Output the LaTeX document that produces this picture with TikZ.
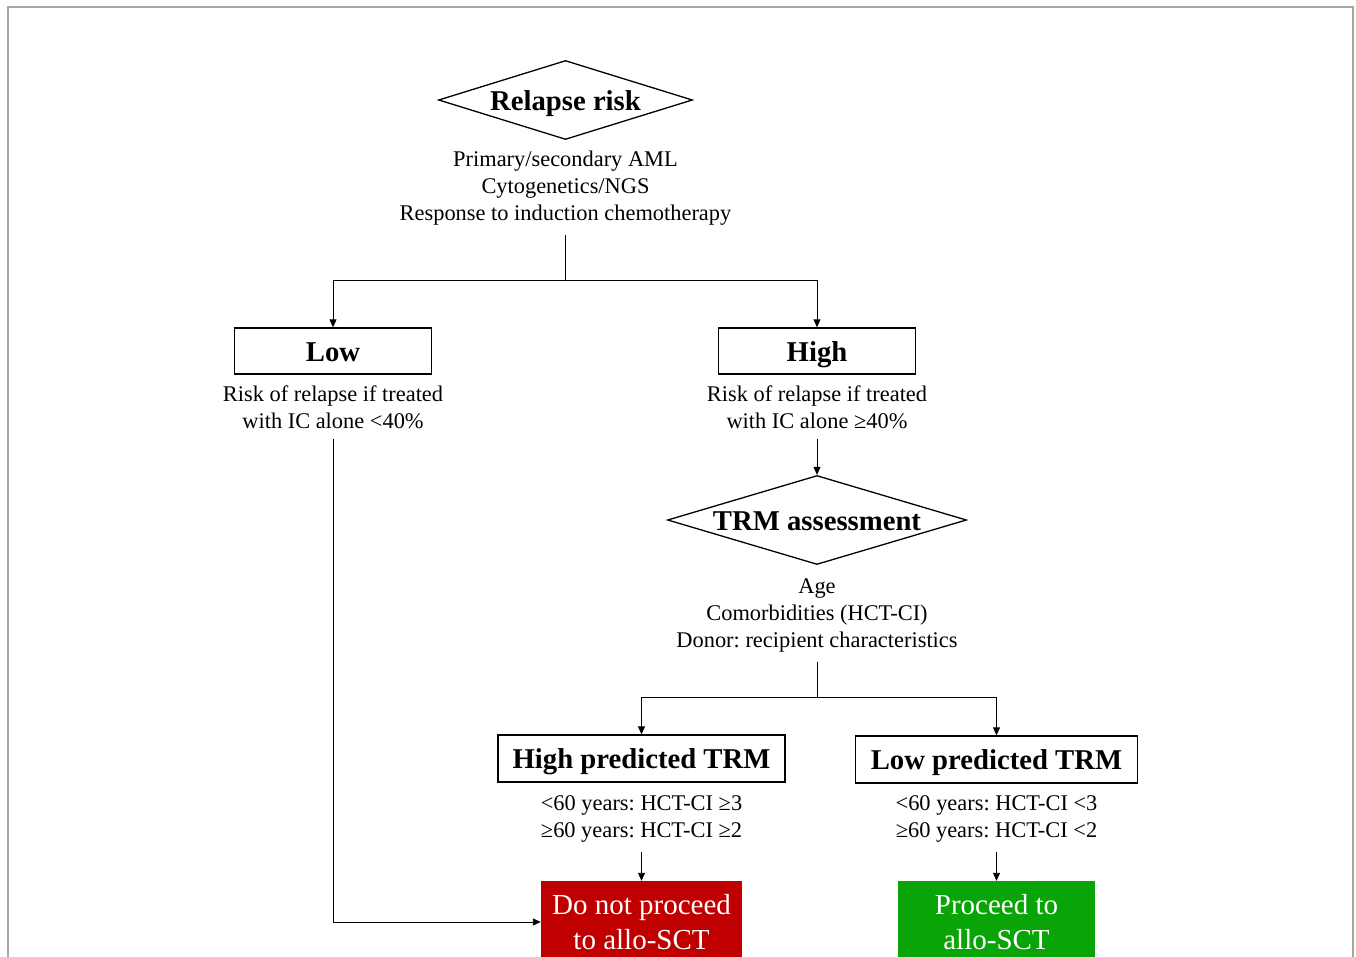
\documentclass[tikz,border=0pt]{standalone}
\usepackage{fontspec}
\setmainfont{Liberation Serif}
\usetikzlibrary{shapes.geometric,arrows.meta}
\definecolor{noRed}{HTML}{C00000}
\definecolor{goGreen}{HTML}{08A408}
\definecolor{frameGray}{HTML}{A6A6A6}
\tikzset{
  decision/.style={shape=diamond, draw, line width=1.3pt, inner sep=0pt, aspect=3.3,
    text height=21pt, text depth=0pt,
    font=\fontsize{28.7}{32}\selectfont\bfseries},
  hbox/.style={draw, line width=1.3pt, inner sep=0pt,
    text height=23pt, text depth=2.5pt,
    font=\fontsize{28.7}{32}\selectfont\bfseries},
  info/.style={align=center, inner xsep=4pt, inner ysep=10pt,
    font=\fontsize{22.4}{27}\selectfont},
  outcome/.style={inner sep=0pt, align=center, text=white,
    font=\fontsize{29}{35}\selectfont},
  conn/.style={line width=0.9pt},
  arr/.style={conn, -{Triangle[length=8pt,width=7pt]}}
}
\begin{document}
\frenchspacing
\begin{tikzpicture}[x=1pt,y=-1pt]
\clip (0,0) rectangle (1356,957);
\useasboundingbox (0,0) rectangle (1356,957);
\draw[frameGray, line width=1.3pt] (8,7) rectangle (1353,1000);

\node[decision, minimum width=254pt, minimum height=79pt] (rel) at (565.5,100) {Relapse risk};
\node[info] (reltext) at (565.5,188) {Primary/secondary AML\\Cytogenetics/NGS\\Response to induction chemotherapy};
\coordinate (split1) at (565.5,280);

\node[hbox, minimum width=197pt, minimum height=46pt] (low) at (333,351) {Low};
\node[hbox, minimum width=197pt, minimum height=46pt] (high) at (817,351) {High};
\node[info] (lowtext) at (333,407.5) {Risk of relapse if treated\\with IC alone <40\%};
\node[info] (hightext) at (817,407.5) {Risk of relapse if treated\\with IC alone ≥40\%};

\node[decision, minimum width=299pt, minimum height=89pt] (trm) at (817,520) {TRM assessment};
\node[info] (trmtext) at (817,615) {Age\\Comorbidities (HCT-CI)\\Donor: recipient characteristics};
\coordinate (split2) at (817,697);

\node[hbox, minimum width=287pt, minimum height=47pt] (hp) at (641.5,758.5) {High predicted TRM};
\node[hbox, minimum width=282pt, minimum height=47pt] (lp) at (996.5,759.5) {Low predicted TRM};
\node[info] (hptext) at (641.5,818.5) {<60 years: HCT-CI ≥3\\≥60 years: HCT-CI ≥2};
\node[info] (lptext) at (996.5,818.5) {<60 years: HCT-CI <3\\≥60 years: HCT-CI <2};

\node[outcome, fill=noRed, minimum width=201pt, minimum height=82pt] (nogo) at (641.5,922) {Do not proceed\\to allo-SCT};
\node[outcome, fill=goGreen, minimum width=197pt, minimum height=82pt] (go) at (996.5,922) {Proceed to\\allo-SCT};

\draw[conn] (reltext.south) -- (split1);
\draw[arr] (split1) -| (low.north);
\draw[arr] (split1) -| (high.north);
\draw[arr] (hightext.south) -- (trm.north);
\draw[arr] (lowtext.south) |- (nogo.west);
\draw[conn] (trmtext.south) -- (split2);
\draw[arr] (split2) -| (hp.north);
\draw[arr] (split2) -| (lp.north);
\draw[arr] (hptext.south) -- (nogo.north);
\draw[arr] (lptext.south) -- (go.north);
\end{tikzpicture}
\end{document}
